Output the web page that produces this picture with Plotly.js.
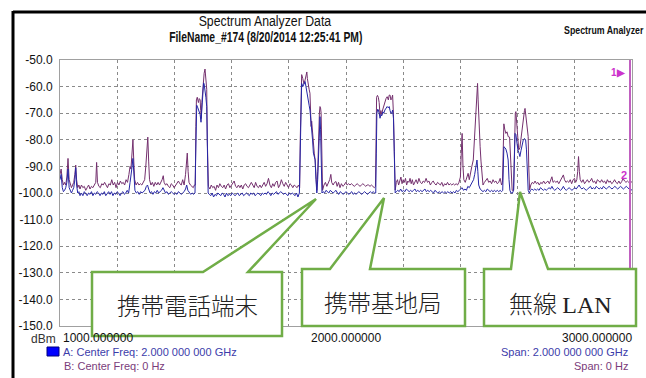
<!DOCTYPE html>
<html>
<head>
<meta charset="utf-8">
<script src="https://cdn.plot.ly/plotly-3.0.1.min.js"></script>
<style>html,body{margin:0;padding:0;background:#fff;}#chart{width:646px;height:378px;}</style>
</head>
<body>
<div id="chart"></div>
<script>
// ---- DATA ----
// Trace B (purple) : [frequency MHz, level dBm]
const traceB = [
[1000,-93],[1004,-91],[1008,-95],[1012,-97],[1016,-96],[1020,-97],[1024,-94],[1028,-87],[1032,-95],[1036,-97],[1040,-98],[1044,-97],[1048,-96],[1052,-93],[1055,-89.5],[1058,-95],[1062,-98],[1066,-97],[1070,-98.5],[1075,-97],[1080,-98],[1085,-97.5],[1090,-99],[1095,-98],[1100,-97],[1105,-98.5],[1110,-97.5],[1115,-98],[1120,-97],[1125,-96],[1128,-88.5],[1131,-96],[1136,-97.5],[1141,-98],[1146,-96.5],[1151,-97],[1156,-96],[1161,-97],[1166,-98],[1171,-96.5],[1176,-97],[1181,-95],[1186,-97],[1191,-96],[1196,-98],[1201,-96],[1206,-97],[1211,-95.5],[1216,-96.5],[1221,-96],[1226,-97],[1231,-95],[1236,-96],[1241,-93],[1245,-90],[1248,-91],[1251,-86],[1255,-80],[1258,-88],[1261,-95],[1266,-97],[1271,-96],[1276,-97],[1281,-96.5],[1286,-97],[1291,-96],[1296,-95],[1300,-90],[1304,-81],[1307,-79],[1310,-88],[1313,-95],[1318,-97],[1323,-96],[1328,-97.5],[1333,-96],[1338,-97],[1343,-96],[1348,-97],[1353,-96],[1357,-95],[1361,-93.5],[1364,-96],[1369,-97],[1374,-96.5],[1379,-97.5],[1384,-98],[1389,-96.5],[1394,-97],[1399,-98],[1404,-97],[1409,-96],[1414,-95.5],[1419,-96.5],[1424,-97],[1429,-95],[1434,-97],[1439,-93],[1442,-87],[1445,-85],[1448,-92],[1451,-96],[1456,-97],[1461,-97.5],[1466,-98],[1470,-97],
[1473,-97],[1475,-75],[1477,-65],[1480,-64],[1484,-66],[1487,-64.5],[1490,-65],[1492,-69],[1494,-72],[1496,-66],[1498,-63],[1501,-58],[1504,-55],[1507,-53.4],[1510,-58],[1513,-61],[1515,-80],[1517,-87],[1519,-97.5],
[1524,-98.5],[1529,-97],[1534,-98],[1539,-97.5],[1544,-99],[1549,-97],[1554,-98],[1559,-96.5],[1564,-97.5],[1569,-98],[1574,-97],[1579,-98.5],[1584,-97],[1589,-96.5],[1594,-98],[1599,-97],[1604,-96],[1609,-95.5],[1614,-97.5],[1619,-98],[1624,-97],[1629,-98],[1634,-97],[1639,-98.5],[1644,-97],[1649,-96.5],[1654,-97.5],[1659,-98],[1664,-97],[1669,-96],[1674,-97],[1679,-98],[1684,-96],[1689,-97.5],[1694,-98],[1699,-97],[1704,-98],[1709,-97],[1714,-96],[1719,-97.5],[1724,-96.5],[1729,-94.5],[1734,-97],[1739,-98],[1744,-96.5],[1749,-97.5],[1754,-96],[1759,-95.5],[1764,-98],[1769,-97],[1774,-95],[1779,-96.5],[1784,-97.5],[1789,-96],[1794,-97],[1799,-98],[1804,-96.5],[1809,-97],[1814,-98],[1819,-97],[1824,-97.5],[1829,-98],[1834,-97],[1838,-98],
[1840,-80],[1842,-60],[1845,-55.5],[1849,-57],[1853,-59],[1857,-57.5],[1860,-55],[1863,-54.5],[1865,-57],[1868,-60],[1871,-61],[1874,-62.5],[1876,-68],[1878,-75],[1880,-73],[1882,-76.3],[1884,-80],[1886,-82.6],[1889,-85],[1892,-87.6],[1895,-94],[1898,-99],[1901,-92],[1903,-80],[1905,-75],[1907,-70],[1909,-67.5],[1911,-68],[1913,-70],[1915,-91],[1918,-99],
[1923,-97],[1928,-96],[1933,-97.5],[1938,-96.5],[1943,-95],[1947,-93],[1950,-96],[1955,-97],[1960,-96],[1965,-95.7],[1969,-97.5],[1974,-96],[1979,-98],[1984,-96.5],[1989,-97.5],[1994,-97],[1999,-96],[2004,-97],[2009,-96.5],[2014,-97],[2019,-96.5],[2024,-97],[2029,-97.5],[2034,-97],[2039,-96.5],[2044,-97],[2049,-97.5],[2054,-97],[2059,-96.5],[2064,-97],[2069,-97.5],[2074,-97],[2079,-97],[2084,-97.5],[2089,-97],[2094,-97.5],[2099,-98],[2103,-97.5],
[2105,-80],[2107,-64],[2110,-63.3],[2113,-64],[2116,-66],[2119,-70.6],[2122,-69],[2125,-70.5],[2128,-68.8],[2132,-67],[2136,-66],[2140,-64.5],[2144,-63.8],[2148,-65],[2151,-63.2],[2154,-63.2],[2157,-65],[2160,-64.4],[2163,-63.2],[2166,-70.6],[2169,-84.4],[2172,-98.9],
[2176,-96],[2180,-95],[2184,-97],[2188,-95.5],[2192,-94],[2196,-96.5],[2200,-95],[2204,-96],[2208,-94.5],[2212,-97],[2216,-95.5],[2220,-96],[2224,-94.5],[2228,-96.5],[2232,-95],[2236,-97],[2240,-96],[2245,-95],[2250,-96.5],[2255,-94.5],[2260,-96],[2265,-96.5],[2270,-95.5],[2275,-96],[2280,-94.5],[2285,-96],[2290,-95.5],[2295,-97],[2300,-96],[2305,-95.5],[2310,-96.5],[2315,-97],[2320,-96],[2325,-96.5],[2330,-97],[2335,-96],[2340,-97.5],[2345,-96.5],[2350,-97],[2355,-96],[2360,-97],[2365,-96.5],[2370,-97],[2375,-96.5],[2380,-97],[2385,-96.5],[2390,-97],[2395,-96],[2400,-94],[2403,-85],[2406,-77.6],[2409,-90],[2412,-95],[2417,-96],[2422,-94],[2427,-92.6],[2431,-95],[2435,-92],[2440,-90],[2445,-87.6],[2449,-80],[2452,-72],[2455,-67.5],[2458,-62],[2460,-58.8],[2462,-65],[2464,-71.3],[2467,-77],[2469,-82.6],[2472,-88],[2475,-93.9],[2479,-97],[2484,-96],[2489,-95],[2494,-94.5],[2499,-96],[2504,-95.5],[2509,-96.5],[2514,-95],[2519,-96],[2524,-95.5],[2529,-96.5],[2534,-96],[2539,-94.5],[2544,-97],[2547,-96],
[2549,-80],[2552,-74],[2555,-76],[2559,-77.6],[2563,-77],[2567,-78.8],[2572,-79],[2577,-90],[2581,-99],[2586,-99],[2589,-80],[2592,-70],[2594,-69.4],[2597,-74],[2599,-78.8],[2602,-82],[2604,-83.8],[2608,-83],[2612,-79],[2614,-77.6],[2618,-74],[2622,-71.3],[2624,-69],[2626,-68.2],[2629,-71],[2632,-73.8],[2635,-77],[2637,-78.8],[2639,-90],[2642,-98.9],
[2646,-97],[2651,-96],[2656,-96.5],[2661,-95.5],[2666,-96.5],[2671,-96],[2676,-97],[2681,-96],[2686,-96.5],[2691,-95.5],[2696,-96.5],[2701,-96],[2706,-95.5],[2711,-96.5],[2716,-95],[2720,-93.9],[2724,-96],[2729,-95.5],[2734,-96],[2739,-95.5],[2744,-96.5],[2749,-95.5],[2755,-94.5],[2760,-93.2],[2764,-95],[2769,-96],[2774,-95.5],[2779,-96],[2784,-95],[2789,-96.5],[2794,-95],[2799,-94.5],[2803,-96],[2807,-95],[2810,-92],[2813,-86.3],[2816,-92],[2819,-95],[2824,-96],[2829,-95],[2834,-96.5],[2839,-95.5],[2844,-95],[2849,-96],[2854,-95.5],[2859,-94.5],[2864,-96],[2869,-95.5],[2874,-96.5],[2879,-95],[2884,-95.5],[2889,-96],[2894,-95],[2899,-96],[2904,-95.5],[2909,-96.5],[2914,-95],[2919,-96],[2924,-95.5],[2929,-96.5],[2934,-96],[2939,-95],[2944,-96],[2949,-96.5],[2954,-95.5],[2959,-96.5],[2964,-95.7],[2969,-94.5],[2974,-95.5],[2979,-96],[2984,-95.5],[2989,-96],[2994,-95.5],[3000,-96]
];
// Trace A (blue) : [frequency MHz, level dBm]
const traceA = [
[1000,-95],[1004,-93],[1008,-98],[1012,-99.5],[1016,-99],[1020,-98],[1024,-96],[1028,-91],[1032,-98],[1036,-99.5],[1040,-100],[1044,-99],[1048,-98],[1052,-95],[1055,-90.5],[1058,-97],[1062,-100],[1066,-99.5],[1070,-101],[1075,-100],[1080,-101],[1085,-99.5],[1090,-100.5],[1095,-101],[1100,-100],[1105,-100.5],[1110,-99.5],[1115,-101],[1120,-100],[1125,-100.5],[1130,-99.5],[1135,-100],[1140,-101],[1145,-100],[1150,-100.5],[1155,-99.5],[1160,-101],[1165,-100],[1170,-99.5],[1175,-100.5],[1180,-99.5],[1185,-101],[1190,-100],[1195,-100.5],[1200,-99.5],[1205,-100],[1210,-101],[1215,-100],[1220,-99.5],[1225,-100.5],[1230,-100],[1235,-99],[1240,-100],[1245,-96],[1248,-94],[1251,-91],[1255,-87],[1258,-95],[1262,-99],[1267,-100],[1272,-99.5],[1277,-100.5],[1282,-99.5],[1287,-100],[1292,-99.5],[1297,-99],[1302,-97.5],[1306,-97],[1310,-98.5],[1315,-100],[1320,-99.5],[1325,-100.5],[1330,-99.5],[1335,-100],[1340,-99],[1345,-100],[1350,-99.5],[1355,-99],[1360,-98],[1364,-99],[1369,-100],[1374,-99.5],[1379,-100.5],[1384,-100],[1389,-99.5],[1394,-100],[1399,-100.5],[1404,-100],[1409,-100.5],[1414,-99.5],[1419,-100],[1424,-100.5],[1429,-100],[1434,-99.5],[1439,-98.5],[1443,-97],[1447,-99],[1452,-100],[1457,-100.5],[1462,-100],[1467,-100.5],[1472,-100],
[1474,-90],[1476,-70],[1478,-67],[1482,-68],[1486,-69],[1490,-70.5],[1493,-73.4],[1496,-68],[1499,-62],[1502,-58.6],[1504,-59],[1507,-61],[1510,-64],[1513,-67.5],[1515,-85],[1518,-100],
[1522,-100.5],[1527,-101],[1532,-100],[1537,-101.5],[1542,-100.5],[1547,-101],[1552,-100],[1557,-100.5],[1562,-101],[1567,-100],[1572,-100.5],[1577,-101.5],[1582,-100],[1587,-101],[1592,-100.5],[1597,-101],[1602,-100],[1607,-100.5],[1612,-101],[1617,-100.5],[1622,-100],[1627,-101],[1632,-100.5],[1637,-100],[1642,-101],[1647,-100.5],[1652,-100],[1657,-100.5],[1662,-101],[1667,-100],[1672,-100.5],[1677,-100],[1682,-101],[1687,-100.5],[1692,-100],[1697,-100.5],[1702,-101],[1707,-100],[1712,-100.5],[1717,-100],[1722,-100.5],[1727,-99.5],[1732,-100],[1737,-101],[1742,-100],[1747,-100.5],[1752,-100],[1757,-99.5],[1762,-100.5],[1767,-100],[1772,-99.5],[1777,-100],[1782,-100.5],[1787,-100],[1792,-100.5],[1797,-101],[1802,-100],[1807,-100.5],[1812,-100],[1817,-100.5],[1822,-101],[1827,-100],[1832,-101.5],[1837,-100],
[1840,-85],[1842,-64],[1845,-58.8],[1849,-60],[1853,-59],[1857,-58.1],[1860,-60],[1863,-62.5],[1866,-64],[1868,-65],[1871,-67],[1874,-68.8],[1877,-72],[1880,-76],[1883,-80],[1886,-85],[1889,-86],[1892,-87.5],[1895,-95],[1898,-100],[1901,-95],[1903,-88],[1905,-82.6],[1907,-76],[1909,-71.3],[1911,-76],[1913,-86],[1916,-100],
[1920,-99.5],[1925,-100],[1930,-99],[1935,-99.5],[1940,-100],[1945,-99],[1950,-99.5],[1955,-100],[1960,-99.5],[1965,-99],[1970,-100],[1975,-100.5],[1980,-99.5],[1985,-100],[1990,-100.5],[1995,-100],[2000,-99.5],[2005,-100],[2010,-100.5],[2015,-100],[2020,-99.5],[2025,-100.5],[2030,-100],[2035,-100.5],[2040,-100],[2045,-99.5],[2050,-100],[2055,-100.5],[2060,-100],[2065,-99.5],[2070,-100],[2075,-100.5],[2080,-100],[2085,-99.5],[2090,-100],[2095,-99.5],[2100,-100],[2104,-100],
[2106,-85],[2108,-70],[2111,-68.5],[2113,-68.8],[2116,-70],[2119,-71.9],[2122,-70.5],[2125,-71],[2129,-69.5],[2132,-70],[2136,-68.8],[2140,-68],[2144,-67.5],[2148,-68],[2151,-67.5],[2154,-69],[2157,-70],[2160,-70],[2163,-68.8],[2166,-72],[2169,-88],[2172,-100],
[2176,-99.5],[2181,-99],[2186,-99.5],[2191,-98.5],[2196,-99.5],[2201,-99],[2206,-99.5],[2211,-98.5],[2216,-99],[2221,-99.5],[2226,-99],[2231,-99.5],[2236,-99],[2241,-98.5],[2246,-99.5],[2251,-99],[2256,-99.5],[2261,-99],[2266,-99.5],[2271,-99],[2276,-98.5],[2281,-99.5],[2286,-99],[2291,-99.5],[2296,-99],[2301,-99.5],[2306,-100],[2311,-99],[2316,-99.5],[2321,-100],[2326,-99.5],[2331,-100],[2336,-99.5],[2341,-100],[2346,-99.5],[2351,-100],[2356,-99.5],[2361,-100],[2366,-99.5],[2371,-100],[2376,-99.5],[2381,-100],[2386,-99],[2391,-99.5],[2396,-99],[2401,-98.5],[2406,-98],[2411,-99],[2416,-98.5],[2421,-99],[2426,-97.5],[2431,-98],[2436,-97],[2441,-96],[2446,-95],[2450,-93],[2454,-90],[2458,-87.6],[2461,-92],[2464,-97],[2469,-98.5],[2474,-99],[2479,-99.5],[2484,-99],[2489,-99.5],[2494,-98.5],[2499,-99],[2504,-99.5],[2509,-99],[2514,-99.5],[2519,-99],[2524,-99.5],[2529,-99],[2534,-99.5],[2539,-99],[2544,-99.5],[2548,-99],
[2550,-90],[2552,-82.6],[2556,-83],[2559,-83.5],[2563,-85],[2567,-87.6],[2570,-95],[2573,-99],[2577,-100],[2582,-100],[2586,-99],[2589,-85],[2591,-77.6],[2594,-78],[2597,-81],[2601,-83.8],[2605,-85],[2608,-86.3],[2612,-84],[2616,-81],[2620,-80],[2624,-79.5],[2628,-80],[2631,-83.8],[2634,-90],[2637,-99],[2641,-100],
[2645,-99],[2650,-98.5],[2655,-99],[2660,-98.5],[2665,-99],[2670,-98.5],[2675,-99],[2680,-98],[2685,-98.5],[2690,-99],[2695,-98.5],[2700,-99],[2705,-98.5],[2710,-98],[2715,-98.5],[2720,-97.5],[2725,-98.5],[2730,-99],[2735,-98.5],[2740,-98],[2745,-98.5],[2750,-99],[2755,-98.5],[2760,-97.5],[2765,-98.5],[2770,-99],[2775,-98.5],[2780,-98],[2785,-98.5],[2790,-99],[2795,-98.5],[2800,-98],[2805,-98.5],[2810,-97.5],[2815,-97],[2820,-98],[2825,-98.5],[2830,-98],[2835,-98.5],[2840,-99],[2845,-98.5],[2850,-98],[2855,-97.5],[2860,-98.5],[2865,-98],[2870,-98.5],[2875,-97.5],[2880,-98],[2885,-98.5],[2890,-98],[2895,-98.5],[2900,-97.5],[2905,-98],[2910,-98.5],[2915,-98],[2920,-97.5],[2925,-98],[2930,-98.5],[2935,-98],[2940,-97.5],[2945,-98],[2950,-98.5],[2955,-98],[2960,-97.5],[2965,-98],[2970,-98.5],[2975,-98],[2980,-97.5],[2985,-98],[2990,-98.5],[2995,-98.5],[3000,-99]
];
const yTickVals = [-50,-60,-70,-80,-90,-100,-110,-120,-130,-140,-150];
const yTickText = ["-50.0","-60.0","-70.0","-80.0","-90.0","-100.0","-110.0","-120.0","-130.0","-140.0","-150.0"];
const xGridVals = [1000,1200,1400,1600,1800,2000,2200,2400,2600,2800,3000];
const xTickLabels = ["1000.000000","2000.000000","3000.000000"];
const titleText = "Spectrum Analyzer Data";
const subTitleText = "FileName_#174 (8/20/2014 12:25:41 PM)";
const cornerText = "Spectrum Analyzer";
const calloutTexts = ["携帯電話端末","携帯基地局","無線 <span style=\"font-family:'Liberation Serif'\">LAN</span>"];
const legendA = ["A: Center Freq: 2.000 000 000 GHz","Span: 2.000 000 000 GHz"];
const legendB = ["B: Center Freq: 0 Hz","Span: 0 Hz"];

// ---- LAYOUT HELPERS (pixel -> paper) ----
const W=646,H=378,PL=60,PR=632,PT=60,PB=326;
const fx = px => (px-PL)/(PR-PL);
const fy = py => (PB-py)/(PB-PT);

function calloutPath(l,t,r,b,b1,b2,tx,ty){
  return `M ${fx(l)},${fy(t)} L ${fx(b1)},${fy(t)} L ${fx(tx)},${fy(ty)} L ${fx(b2)},${fy(t)} L ${fx(r)},${fy(t)} L ${fx(r)},${fy(b)} L ${fx(l)},${fy(b)} Z`;
}

const traces = [
 {x: traceB.map(p=>p[0]), y: traceB.map(p=>p[1]), type:'scatter', mode:'lines',
  line:{color:'#74306e', width:1}, hoverinfo:'skip'},
 {x: traceA.map(p=>p[0]), y: traceA.map(p=>p[1]), type:'scatter', mode:'lines',
  line:{color:'#2626a6', width:1}, hoverinfo:'skip'}
];

const green = '#70ad47';
const shapes = [
 {type:'line', xref:'paper', yref:'paper', x0:fx(13), x1:fx(660), y0:fy(12), y1:fy(12), line:{color:'#000', width:3}},
 {type:'line', xref:'paper', yref:'paper', x0:fx(13), x1:fx(13), y0:fy(11), y1:fy(400), line:{color:'#000', width:3}},
 {type:'line', xref:'paper', yref:'paper', x0:fx(630), x1:fx(630), y0:0, y1:1, line:{color:'#c060c0', width:2}},
 {type:'rect', xref:'paper', yref:'paper', x0:fx(47), x1:fx(59), y0:fy(347), y1:fy(356), fillcolor:'#0000ff', line:{color:'#000080', width:1}},
 {type:'path', xref:'paper', yref:'paper', layer:'above', path:calloutPath(92,272,282,336,203,248,316,199), fillcolor:'#fff', line:{color:green, width:2.5}},
 {type:'path', xref:'paper', yref:'paper', layer:'above', path:calloutPath(302,269,465,326,330,370,384,198), fillcolor:'#fff', line:{color:green, width:2.5}},
 {type:'path', xref:'paper', yref:'paper', layer:'above', path:calloutPath(484,269,636,326,511,548,520,192), fillcolor:'#fff', line:{color:green, width:2.5}}
];

const base = {xref:'paper', yref:'paper', showarrow:false};
const sans = "'Liberation Sans', Arial";
const cjk = "'Noto Sans CJK JP'";
const annotations = [
 Object.assign({}, base, {x:fx(265), y:fy(21), text:titleText, xanchor:'center', yanchor:'middle', font:{family:sans, size:15, color:'#111'}}),
 Object.assign({}, base, {x:fx(266), y:fy(37), text:subTitleText, xanchor:'center', yanchor:'middle', font:{family:sans, size:14, color:'#111', weight:'bold'}}),
 Object.assign({}, base, {x:fx(562), y:fy(30), text:cornerText, xanchor:'left', yanchor:'middle', font:{family:sans, size:10, color:'#111', weight:'bold'}}),
 Object.assign({}, base, {x:fx(61), y:fy(338), text:xTickLabels[0], xanchor:'left', yanchor:'middle', font:{family:sans, size:12, color:'#111'}}),
 Object.assign({}, base, {x:fx(346), y:fy(338), text:xTickLabels[1], xanchor:'center', yanchor:'middle', font:{family:sans, size:12, color:'#111'}}),
 Object.assign({}, base, {x:fx(634), y:fy(338), text:xTickLabels[2], xanchor:'right', yanchor:'middle', font:{family:sans, size:12, color:'#111'}}),
 Object.assign({}, base, {x:fx(58), y:fy(339), text:'dBm', xanchor:'right', yanchor:'middle', font:{family:sans, size:12, color:'#333'}}),
 Object.assign({}, base, {x:fx(61), y:fy(352), text:legendA[0], xanchor:'left', yanchor:'middle', font:{family:sans, size:11, color:'#3c3caa'}}),
 Object.assign({}, base, {x:fx(62), y:fy(366), text:legendB[0], xanchor:'left', yanchor:'middle', font:{family:sans, size:11, color:'#7a3c7a'}}),
 Object.assign({}, base, {x:fx(630), y:fy(352), text:legendA[1], xanchor:'right', yanchor:'middle', font:{family:sans, size:11, color:'#3c3caa'}}),
 Object.assign({}, base, {x:fx(630), y:fy(366), text:legendB[1], xanchor:'right', yanchor:'middle', font:{family:sans, size:11, color:'#7a3c7a'}}),
 Object.assign({}, base, {x:fx(618), y:fy(72), text:'1▶', xanchor:'center', yanchor:'middle', font:{family:sans, size:10, color:'#cc33cc', weight:'bold'}}),
 Object.assign({}, base, {x:fx(624), y:fy(175), text:'2', xanchor:'center', yanchor:'middle', font:{family:sans, size:11, color:'#cc33cc', weight:'bold'}}),
 Object.assign({}, base, {x:fx(187), y:fy(305), text:calloutTexts[0], xanchor:'center', yanchor:'middle', font:{family:cjk, size:23.5, color:'#222', weight:300}}),
 Object.assign({}, base, {x:fx(383), y:fy(302), text:calloutTexts[1], xanchor:'center', yanchor:'middle', font:{family:cjk, size:23.5, color:'#222', weight:300}}),
 Object.assign({}, base, {x:fx(560), y:fy(302), text:calloutTexts[2], xanchor:'center', yanchor:'middle', font:{family:cjk, size:24, color:'#222', weight:300}})
];

const layout = {
 width:W, height:H,
 margin:{l:PL, r:W-PR, t:PT, b:H-PB, pad:0},
 paper_bgcolor:'#fff', plot_bgcolor:'#fff',
 showlegend:false,
 xaxis:{range:[1000,3000], tickvals:xGridVals, showticklabels:false, ticks:'',
   showgrid:true, gridcolor:'#8a8a8a', griddash:'dot', gridwidth:1,
   showline:true, linecolor:'#a0a0a0', linewidth:1, mirror:true, zeroline:false, fixedrange:true},
 yaxis:{range:[-150,-50], tickvals:yTickVals, ticktext:yTickText, ticks:'', ticklabelstandoff:4,
   tickfont:{family:sans, size:12, color:'#111'},
   showgrid:true, gridcolor:'#8a8a8a', griddash:'dot', gridwidth:1,
   showline:true, linecolor:'#a0a0a0', linewidth:1, mirror:true, zeroline:false, fixedrange:true},
 shapes:shapes,
 annotations:annotations
};

// condensed look for the (Arial Narrow-like) header texts: horizontal scale per annotation index
const condense = {0:[0.82,'center'], 1:[0.74,'center'], 2:[0.88,'left']};

Plotly.newPlot('chart', traces, layout, {staticPlot:true, displayModeBar:false}).then(gd => {
  gd.querySelectorAll('.annotation').forEach(a => {
    const idx = +a.getAttribute('data-index');
    if (condense[idx]) {
      const t = a.querySelector('text');
      if (t) {
        t.style.transformBox = 'fill-box';
        t.style.transformOrigin = condense[idx][1] + ' center';
        t.style.transform = 'scaleX(' + condense[idx][0] + ')';
      }
    }
  });
});
</script>
</body>
</html>
